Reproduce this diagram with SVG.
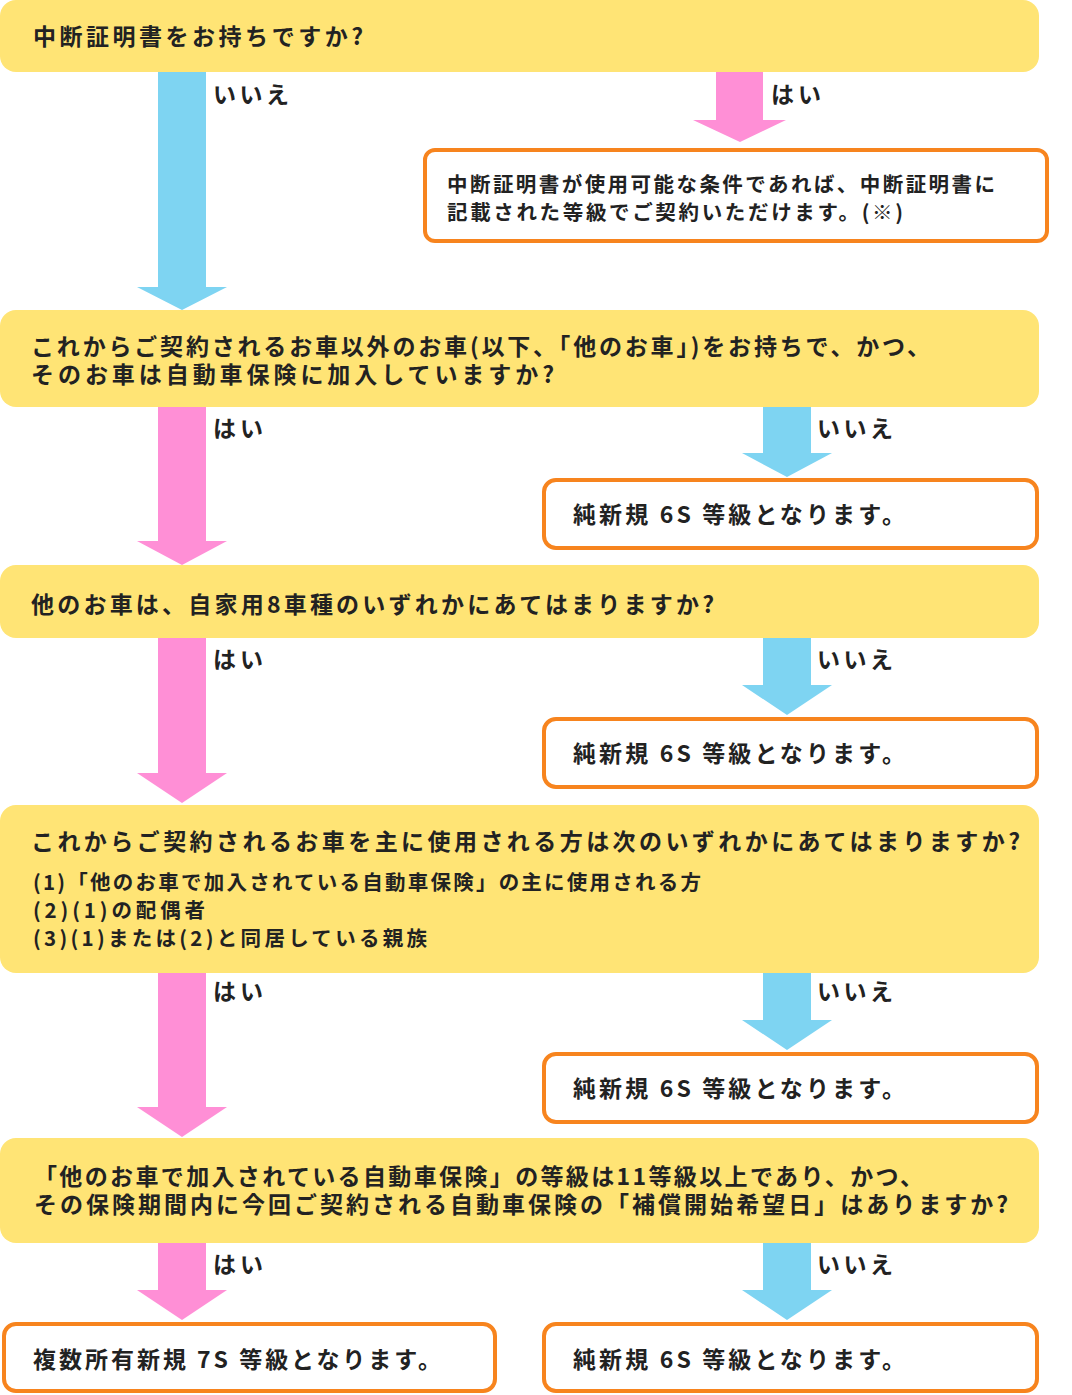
<svg xmlns="http://www.w3.org/2000/svg" width="1072" height="1395" viewBox="0 0 1072 1395">
<style>
.q{fill:#FFE475}
.r{fill:#FFFFFF;stroke:#F7841E;stroke-width:4}
.pink{fill:#FF8FD6}
.blue{fill:#7ED4F2}
text{font-family:"Noto Sans CJK JP","Noto Sans",sans-serif;font-weight:bold;fill:#222222}
.t{font-size:23px}
.s{font-size:20.5px}
.lb{font-size:23px}
</style>
<rect width="1072" height="1395" fill="#FFFFFF"/>
<g id="connectors">
  <polygon class="blue" points="158,72 206,72 206,287 227,287 182,310 137,287 158,287"/>
  <text class="lb" x="213" y="103" textLength="76" lengthAdjust="spacing">いいえ</text>
  <polygon class="pink" points="716,72 763,72 763,120 786,120 740,142 693,120 716,120"/>
  <text class="lb" x="771" y="103" textLength="50" lengthAdjust="spacing">はい</text>

  <polygon class="pink" points="158,407 206,407 206,541 227,541 182,565 137,541 158,541"/>
  <text class="lb" x="213" y="437" textLength="50" lengthAdjust="spacing">はい</text>
  <polygon class="blue" points="763,407 811,407 811,453 832,453 787,477 742,453 763,453"/>
  <text class="lb" x="817" y="437" textLength="76" lengthAdjust="spacing">いいえ</text>

  <polygon class="pink" points="158,638 206,638 206,773 227,773 182,803 137,773 158,773"/>
  <text class="lb" x="213" y="668" textLength="50" lengthAdjust="spacing">はい</text>
  <polygon class="blue" points="763,638 811,638 811,685 832,685 787,715 742,685 763,685"/>
  <text class="lb" x="817" y="668" textLength="76" lengthAdjust="spacing">いいえ</text>

  <polygon class="pink" points="158,973 206,973 206,1107 227,1107 182,1137 137,1107 158,1107"/>
  <text class="lb" x="213" y="1000" textLength="50" lengthAdjust="spacing">はい</text>
  <polygon class="blue" points="763,973 811,973 811,1020 832,1020 787,1050 742,1020 763,1020"/>
  <text class="lb" x="817" y="1000" textLength="76" lengthAdjust="spacing">いいえ</text>

  <polygon class="pink" points="158,1243 206,1243 206,1290 227,1290 182,1320 137,1290 158,1290"/>
  <text class="lb" x="213" y="1273" textLength="50" lengthAdjust="spacing">はい</text>
  <polygon class="blue" points="763,1243 811,1243 811,1290 832,1290 787,1320 742,1290 763,1290"/>
  <text class="lb" x="817" y="1273" textLength="76" lengthAdjust="spacing">いいえ</text>
</g>

<g id="q1">
  <rect class="q" x="0" y="0" width="1039" height="72" rx="16"/>
  <text class="t" x="33" y="45" font-size="24" textLength="330" lengthAdjust="spacing">中断証明書をお持ちですか?</text>
</g>
<g id="r1">
  <rect class="r" x="425" y="150" width="622" height="91" rx="10"/>
  <text class="s" x="447" y="192" textLength="548" lengthAdjust="spacing">中断証明書が使用可能な条件であれば、中断証明書に</text>
  <text class="s" x="447" y="220" textLength="456" lengthAdjust="spacing">記載された等級でご契約いただけます。(※)</text>
</g>

<g id="q2">
  <rect class="q" x="0" y="310" width="1039" height="97" rx="16"/>
  <text class="t" x="31" y="355" textLength="899" lengthAdjust="spacing">これからご契約されるお車以外のお車(以下、「他のお車」)をお持ちで、かつ、</text>
  <text class="t" x="31" y="383" textLength="523" lengthAdjust="spacing">そのお車は自動車保険に加入していますか?</text>
</g>
<g id="r2">
  <rect class="r" x="544" y="480" width="493" height="68" rx="12"/>
  <text class="t" x="573" y="523" textLength="332" lengthAdjust="spacing">純新規 6S 等級となります。</text>
</g>

<g id="q3">
  <rect class="q" x="0" y="565" width="1039" height="73" rx="16"/>
  <text class="t" x="31" y="613" textLength="683" lengthAdjust="spacing">他のお車は、自家用8車種のいずれかにあてはまりますか?</text>
</g>
<g id="r3">
  <rect class="r" x="544" y="719" width="493" height="68" rx="12"/>
  <text class="t" x="573" y="762" textLength="332" lengthAdjust="spacing">純新規 6S 等級となります。</text>
</g>

<g id="q4">
  <rect class="q" x="0" y="805" width="1039" height="168" rx="16"/>
  <text class="t" x="31" y="850" textLength="989" lengthAdjust="spacing">これからご契約されるお車を主に使用される方は次のいずれかにあてはまりますか?</text>
  <text class="s" x="33" y="890" textLength="668" lengthAdjust="spacing">(1)「他のお車で加入されている自動車保険」の主に使用される方</text>
  <text class="s" x="33" y="918" textLength="172" lengthAdjust="spacing">(2)(1)の配偶者</text>
  <text class="s" x="33" y="946" textLength="394" lengthAdjust="spacing">(3)(1)または(2)と同居している親族</text>
</g>
<g id="r4">
  <rect class="r" x="544" y="1054" width="493" height="68" rx="12"/>
  <text class="t" x="573" y="1097" textLength="332" lengthAdjust="spacing">純新規 6S 等級となります。</text>
</g>

<g id="q5">
  <rect class="q" x="0" y="1138" width="1039" height="105" rx="16"/>
  <text class="t" x="34" y="1185" textLength="889" lengthAdjust="spacing">「他のお車で加入されている自動車保険」の等級は11等級以上であり、かつ、</text>
  <text class="t" x="34" y="1213" textLength="974" lengthAdjust="spacing">その保険期間内に今回ご契約される自動車保険の「補償開始希望日」はありますか?</text>
</g>
<g id="r5a">
  <rect class="r" x="4" y="1324" width="491" height="67" rx="12"/>
  <text class="t" x="33" y="1368" textLength="408" lengthAdjust="spacing">複数所有新規 7S 等級となります。</text>
</g>
<g id="r5b">
  <rect class="r" x="544" y="1324" width="493" height="67" rx="12"/>
  <text class="t" x="573" y="1368" textLength="332" lengthAdjust="spacing">純新規 6S 等級となります。</text>
</g>
</svg>
